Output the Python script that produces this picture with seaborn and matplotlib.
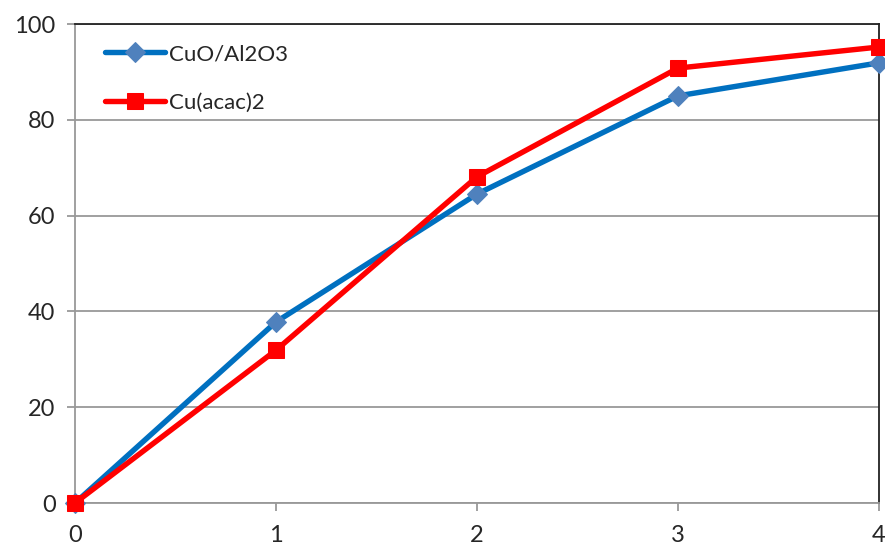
import matplotlib
matplotlib.use("Agg")
import matplotlib.pyplot as plt
import seaborn as sns
import pandas as pd

time_h = [0, 1, 2, 3, 4]
cuo_al2o3 = [0, 37.8, 64.5, 85.0, 91.9]
cu_acac2 = [0, 31.9, 68.1, 90.8, 95.2]
series_names = ["CuO/Al2O3", "Cu(acac)2"]
y_ticks = [0, 20, 40, 60, 80, 100]

df = pd.DataFrame({
    "x": time_h * 2,
    "y": cuo_al2o3 + cu_acac2,
    "series": [series_names[0]] * len(time_h) + [series_names[1]] * len(time_h),
})

sns.set_theme(style="white")
plt.rcParams["font.family"] = ["Lato", "DejaVu Sans"]

fig = plt.figure(figsize=(8.85, 5.47), dpi=100)
ax = fig.add_axes([0.0847, 0.0804, 0.9085, 0.8757])

styles = {
    series_names[0]: dict(color="#0070C0", marker="D", mfc="#4F81BD", mec="#4F81BD", ms=10),
    series_names[1]: dict(color="#FF0000", marker="s", mfc="#FF0000", mec="#FF0000", ms=11),
}
for name in series_names:
    st = styles[name]
    sns.lineplot(data=df[df["series"] == name], x="x", y="y", ax=ax,
                 color=st["color"], lw=3.9, marker=st["marker"],
                 markersize=st["ms"], markerfacecolor=st["mfc"],
                 markeredgecolor=st["mec"], label=name, clip_on=False, zorder=3)

ax.set_xlim(0, 4)
ax.set_ylim(0, 100)
ax.set_xticks(time_h)
ax.set_yticks(y_ticks)
ax.set_xlabel("")
ax.set_ylabel("")
ax.yaxis.grid(True, color="#999999", lw=1.3)
ax.set_axisbelow(True)

for side in ["left", "bottom"]:
    ax.spines[side].set_color("#999999")
    ax.spines[side].set_linewidth(1.3)
for side in ["top", "right"]:
    ax.spines[side].set_color("#222222")
    ax.spines[side].set_linewidth(1.3)

ax.tick_params(axis="x", bottom=True, direction="out", length=6, width=1.3,
               color="#999999", labelsize=17, pad=10)
ax.tick_params(axis="y", left=True, direction="out", length=6, width=1.3,
               color="#999999", labelsize=17, pad=8)

leg = ax.legend(loc="upper left", bbox_to_anchor=(0.012, 1.0), frameon=False,
                fontsize=16, handlelength=2.7, labelspacing=1.3, handletextpad=0.2)

fig.savefig("out.png", dpi=100)
